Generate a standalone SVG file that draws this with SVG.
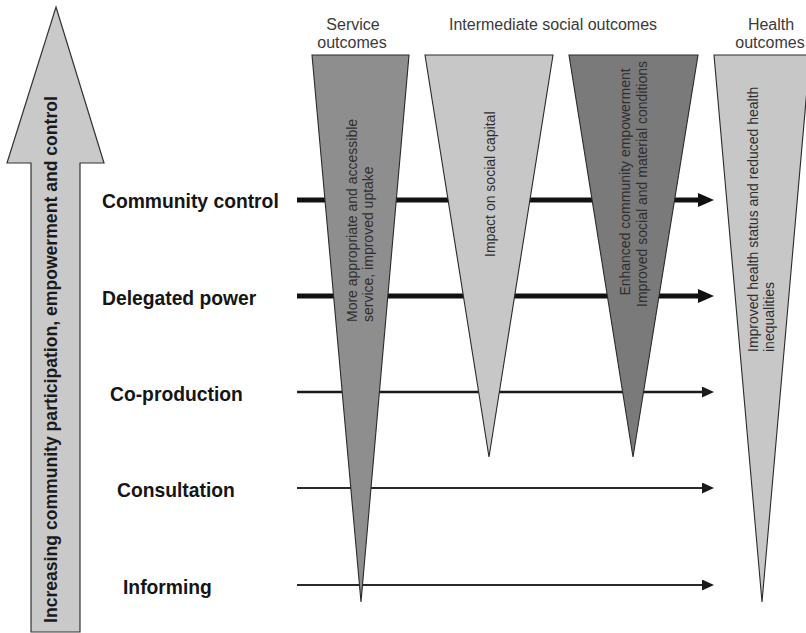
<svg xmlns="http://www.w3.org/2000/svg" width="806" height="633" viewBox="0 0 806 633">
<style>
.bg{fill:#ffffff}
.tri{stroke:#2a2a2a;stroke-width:1.1;stroke-linejoin:miter}
.dark{fill:#8e8e8e}
.darker{fill:#7a7a7a}
.light{fill:#c7c7c7}
.big{fill:#c9c9c9;stroke:#333333;stroke-width:1.2}
.row{font-family:"Liberation Sans",Arial,sans-serif;font-weight:bold;font-size:19.3px;fill:#151515}
.head{font-family:"Liberation Sans",Arial,sans-serif;font-size:16px;fill:#3a3a3a;text-anchor:middle}
.tt{font-family:"Liberation Sans",Arial,sans-serif;font-size:14px;fill:#2e2e2e}
.bigt{font-family:"Liberation Sans",Arial,sans-serif;font-weight:bold;font-size:17.6px;fill:#1a1a1a}
.thick{stroke:#111111;stroke-width:4.8;fill:none}
.mid{stroke:#1a1a1a;stroke-width:2.6;fill:none}
.thin{stroke:#2a2a2a;stroke-width:1.8;fill:none}
</style>
<defs>
<marker id="headThick" markerUnits="userSpaceOnUse" markerWidth="16" markerHeight="14" refX="0" refY="7" orient="auto" viewBox="0 0 16 14">
<path d="M0,0 L16,7 L0,14 z" fill="#111111"/>
</marker>
<marker id="headThin" markerUnits="userSpaceOnUse" markerWidth="12" markerHeight="11" refX="0" refY="5.5" orient="auto" viewBox="0 0 12 11">
<path d="M0,0 L12,5.5 L0,11 z" fill="#1a1a1a"/>
</marker>
</defs>
<rect class="bg" x="0" y="0" width="806" height="633"/>

<g id="participation-arrow">
<polygon class="big" points="56,7 104,163 80,163 80,632 31,632 31,163 7,163"/>
<text class="bigt" transform="translate(57,623) rotate(-90)">Increasing community participation, empowerment and control</text>
</g>

<g id="connectors">
<line class="thick" x1="297" y1="200" x2="698" y2="200" marker-end="url(#headThick)"/>
<line class="thick" x1="297" y1="296" x2="698" y2="296" marker-end="url(#headThick)"/>
<line class="mid" x1="297" y1="392" x2="702" y2="392" marker-end="url(#headThin)"/>
<line class="thin" x1="297" y1="488" x2="702" y2="488" marker-end="url(#headThin)"/>
<line class="thin" x1="297" y1="585" x2="702" y2="585" marker-end="url(#headThin)"/>
</g>

<g id="row-community-control"><text class="row" x="102" y="208">Community control</text></g>
<g id="row-delegated-power"><text class="row" x="102" y="305">Delegated power</text></g>
<g id="row-co-production"><text class="row" x="110" y="401">Co-production</text></g>
<g id="row-consultation"><text class="row" x="117" y="497">Consultation</text></g>
<g id="row-informing"><text class="row" x="123" y="594">Informing</text></g>

<g id="heading-service">
<text class="head" x="353" y="30">Service</text>
<text class="head" x="352" y="48">outcomes</text>
</g>
<g id="heading-intermediate">
<text class="head" x="553" y="30">Intermediate social outcomes</text>
</g>
<g id="heading-health">
<text class="head" x="771" y="30">Health</text>
<text class="head" x="770" y="48">outcomes</text>
</g>

<g id="service-outcome">
<polygon class="tri dark" points="312,55 409,55 361,602"/>
<text class="tt" transform="translate(357,322) rotate(-90)">More appropriate and accessible</text>
<text class="tt" transform="translate(373,322) rotate(-90)">service, improved uptake</text>
</g>

<g id="social-capital">
<polygon class="tri light" points="425,55 553,55 489,457"/>
<text class="tt" transform="translate(495,257) rotate(-90)">Impact on social capital</text>
</g>

<g id="empowerment">
<polygon class="tri darker" points="569,55 698,55 633,457"/>
<text class="tt" text-anchor="middle" transform="translate(630,182) rotate(-90)">Enhanced community empowerment</text>
<text class="tt" text-anchor="middle" transform="translate(647,184) rotate(-90)">Improved social and material conditions</text>
</g>

<g id="health-outcome">
<polygon class="tri light" points="714,55 810,55 762,602"/>
<text class="tt" transform="translate(758,352) rotate(-90)">Improved health status and reduced health</text>
<text class="tt" transform="translate(774,352) rotate(-90)">inequalities</text>
</g>
</svg>
